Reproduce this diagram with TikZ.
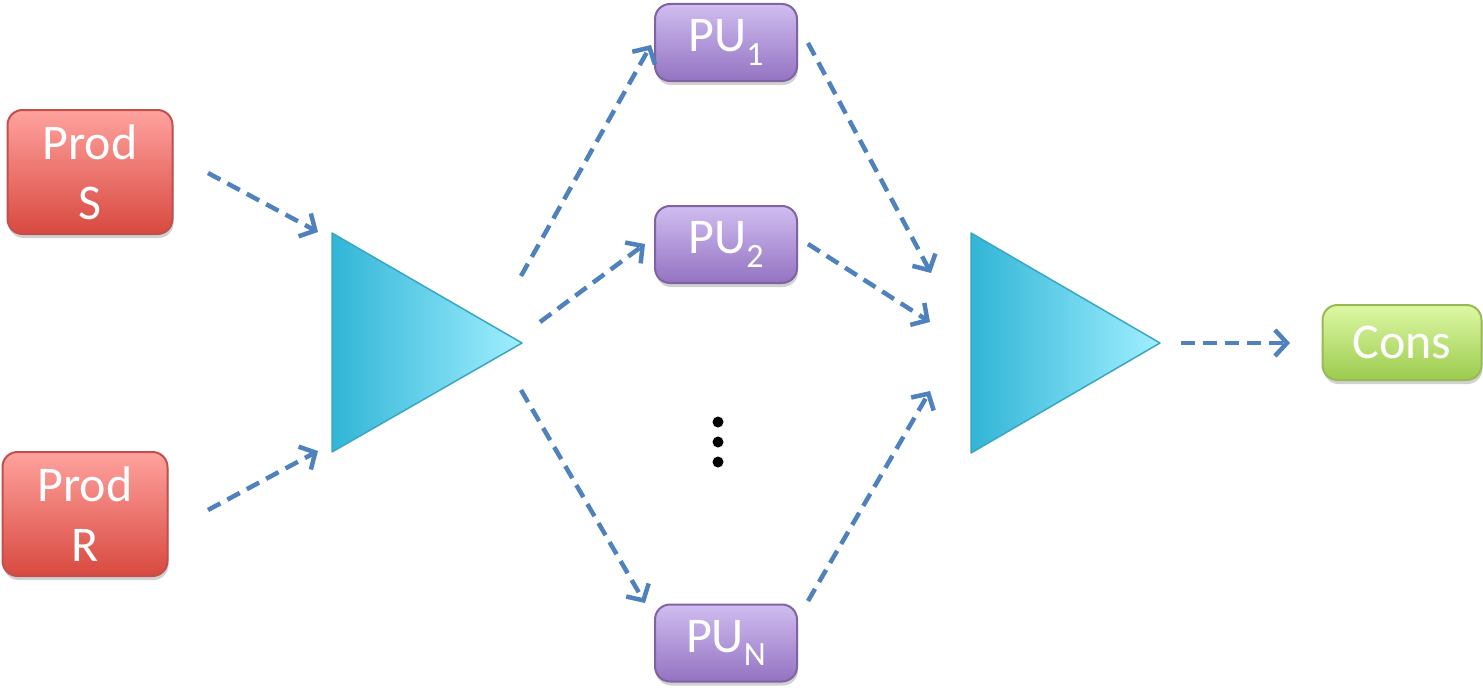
\documentclass[tikz,border=0pt]{standalone}
\usepackage{fontspec}
\setmainfont{Carlito}
\usetikzlibrary{arrows.meta,shadows}
\newcommand\lowsub[1]{\raisebox{-0.27em}{\fontsize{34}{34}\selectfont #1}}

\definecolor{prodtop}{HTML}{FFA29E}
\definecolor{prodbot}{HTML}{D8493F}
\definecolor{prodedge}{HTML}{C0504D}
\definecolor{putop}{HTML}{D0BDF0}
\definecolor{pubot}{HTML}{9373C2}
\definecolor{puedge}{HTML}{8064A2}
\definecolor{constop}{HTML}{DDF8A4}
\definecolor{consbot}{HTML}{9CCB4E}
\definecolor{consedge}{HTML}{98B954}
\definecolor{trileft}{HTML}{31B5D6}
\definecolor{triright}{HTML}{A0EFFF}
\definecolor{triedge}{HTML}{3AA6C2}
\definecolor{flow}{HTML}{4F81BD}

\tikzset{
  box/.style={rectangle, rounded corners=15pt, line width=2pt, text=white,
    font=\fontsize{50}{60}\selectfont, align=center, inner sep=0pt,
    drop shadow={shadow xshift=1pt, shadow yshift=-4pt, opacity=0.18, fill=black}},
  prodbox/.style={box, draw=prodedge, top color=prodtop, bottom color=prodbot,
    minimum width=165pt, minimum height=124pt},
  pubox/.style={box, draw=puedge, top color=putop, bottom color=pubot,
    minimum width=142pt, minimum height=77pt},
  consbox/.style={box, draw=consedge, top color=constop, bottom color=consbot,
    minimum width=159pt, minimum height=75pt},
  tri/.style={draw=triedge, line width=1.5pt, left color=trileft, right color=triright,
    line join=round},
  flowarrow/.style={draw=flow, line width=4.5pt, dash pattern=on 14pt off 8pt,
    -{Straight Barb[length=12pt,width=26pt,line width=4.5pt]}},
  dotmark/.style={circle, fill=black, inner sep=0pt, minimum size=11pt}
}

\begin{document}
\begin{tikzpicture}[x=1pt,y=-1pt]
\useasboundingbox (0,0) rectangle (1483,693);

% producers, processing units and consumer
\node[prodbox] (prodS) at (90,172) {Prod\\S};
\node[prodbox] (prodR) at (85,514) {Prod\\R};
\node[pubox] (pu1) at (726,42.5) {PU\lowsub{1}};
\node[pubox] (pu2) at (726,244.5) {PU\lowsub{2}};
\node[pubox] (puN) at (726,643) {PU\lowsub{N}};
\node[consbox] (cons) at (1402,342.5) {Cons};

% splitter and merger triangles
\draw[tri] (332,233) -- (522,343) -- (332,452) -- cycle;
\draw[tri] (971,233) -- (1160,343) -- (971,453) -- cycle;

% vertical ellipsis between PU_2 and PU_N
\node[dotmark] (d1) at (718,422) {};
\node[dotmark] (d2) at (718,442) {};
\node[dotmark] (d3) at (718,462) {};

% arrow end points around the triangles
\coordinate (sOut) at (208,173);
\coordinate (rOut) at (208,510);
\coordinate (splitInS) at (318,232);
\coordinate (splitInR) at (318,451);
\coordinate (splitOut1) at (521,276);
\coordinate (splitOut2) at (540,322);
\coordinate (splitOutN) at (521,390);
\coordinate (pu1In) at (651,45);
\coordinate (pu2In) at (645,244);
\coordinate (puNIn) at (645,603);
\coordinate (pu1Out) at (808,43);
\coordinate (pu2Out) at (808,244);
\coordinate (puNOut) at (808,601);
\coordinate (mergeIn1) at (931,273);
\coordinate (mergeIn2) at (930,322);
\coordinate (mergeInN) at (930,391);
\coordinate (mergeOut) at (1181,343);
\coordinate (consIn) at (1290,343);

% data flow
\draw[flowarrow] (sOut) -- (splitInS);
\draw[flowarrow] (rOut) -- (splitInR);
\draw[flowarrow] (splitOut1) -- (pu1In);
\draw[flowarrow] (splitOut2) -- (pu2In);
\draw[flowarrow] (splitOutN) -- (puNIn);
\draw[flowarrow] (pu1Out) -- (mergeIn1);
\draw[flowarrow] (pu2Out) -- (mergeIn2);
\draw[flowarrow] (puNOut) -- (mergeInN);
\draw[flowarrow] (mergeOut) -- (consIn);
\end{tikzpicture}
\end{document}
